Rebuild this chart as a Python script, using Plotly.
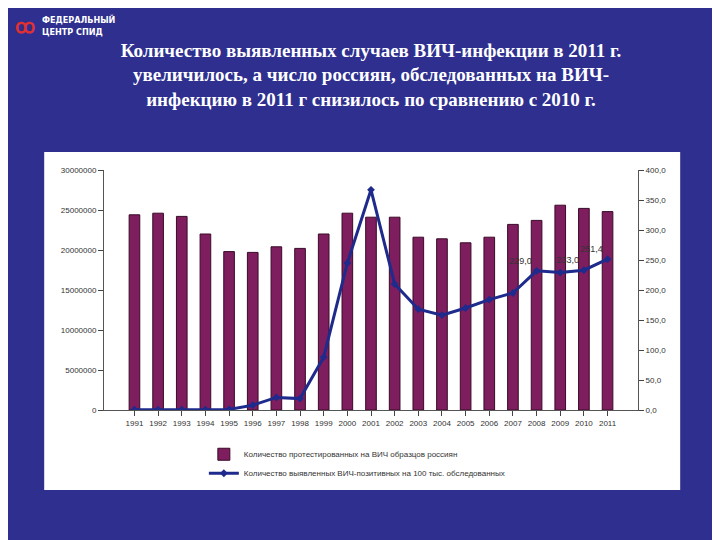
import plotly.graph_objects as go

years = [str(y) for y in range(1991, 2012)]
tested = [24.4, 24.6, 24.2, 22.0, 19.8, 19.7, 20.4, 20.2, 22.0, 24.6, 24.1, 24.1, 21.6, 21.4, 20.9, 21.6, 23.2, 23.7, 25.6, 25.2, 24.8]
tested = [v * 1e6 for v in tested]
rate = [0.5, 0.5, 0.5, 0.5, 1, 8, 21, 19, 88, 245, 367, 210, 168, 158, 170, 184, 195, 232, 229, 233, 251.4]
labels = ["" for _ in years]
labels[17] = "229,0"; labels[19] = "233,0"; labels[20] = "251,4"
right_ticks = [0, 50, 100, 150, 200, 250, 300, 350, 400]
right_text = ["0,0", "50,0", "100,0", "150,0", "200,0", "250,0", "300,0", "350,0", "400,0"]
left_ticks = [0, 5e6, 10e6, 15e6, 20e6, 25e6, 30e6]
left_text = ["0", "5000000", "10000000", "15000000", "20000000", "25000000", "30000000"]

fig = go.Figure()
fig.add_bar(x=years, y=tested, name="Количество протестированных на ВИЧ образцов россиян",
            marker=dict(color="#7E1E5E", line=dict(color="#3a0a28", width=1)), width=0.45)
fig.add_scatter(x=years, y=rate, yaxis="y2", mode="lines+markers+text", text=labels,
                textposition="top left", textfont=dict(size=9, color="#333"),
                name="Количество выявленных ВИЧ-позитивных на 100 тыс. обследованных",
                line=dict(color="#1E2A8C", width=3), marker=dict(symbol="diamond", size=6, color="#1E2A8C"))

fig.add_shape(type="rect", xref="paper", yref="paper", x0=-0.112, x1=1.079, y0=-0.333, y1=1.075,
              fillcolor="white", line=dict(width=0), layer="below")

fig.update_layout(
    width=720, height=540, paper_bgcolor="#2E2F8F", plot_bgcolor="#C0C0C0",
    margin=dict(l=96, r=90, t=162, b=138, autoexpand=False),
    font=dict(family="Liberation Sans", size=8, color="#333"),
    title=dict(text="<b>Количество выявленных случаев ВИЧ-инфекции в 2011 г.<br>увеличилось, а число россиян, обследованных на ВИЧ-<br>инфекцию в 2011 г снизилось по сравнению с 2010 г.</b>",
               x=(96 + 267) / 720, xanchor="center", y=0.91, yanchor="top",
               font=dict(family="Liberation Serif", size=19, color="white")),
    xaxis=dict(showgrid=False, ticks="outside", showline=True, linecolor="#555", tickfont=dict(size=8), automargin=False),
    yaxis=dict(range=[0, 30e6], tickvals=left_ticks, ticktext=left_text, showgrid=False,
               ticks="outside", showline=True, linecolor="#555", automargin=False),
    yaxis2=dict(range=[0, 400], tickvals=right_ticks, ticktext=right_text, overlaying="y", side="right",
                showgrid=False, ticks="outside", showline=True, linecolor="#555", automargin=False),
    showlegend=True,
    legend=dict(orientation="v", x=0.187, y=-0.124, xanchor="left", yanchor="top",
                bgcolor="rgba(0,0,0,0)", font=dict(size=8), tracegroupgap=17),
    bargap=0.5,
)
fig.add_annotation(text="<b>ФЕДЕРАЛЬНЫЙ<br>ЦЕНТР СПИД</b>", xref="paper", yref="paper", x=-0.12, y=1.60,
                   xanchor="left", yanchor="middle", showarrow=False, align="left",
                   font=dict(family="DejaVu Sans Condensed", size=9, color="white"))
fig.add_annotation(text="<b>ꝏ</b>", xref="paper", yref="paper", x=-0.17, y=1.60, xanchor="left",
                   yanchor="middle", showarrow=False, font=dict(size=20, color="#E03030"))
fig.write_html("out.html")
